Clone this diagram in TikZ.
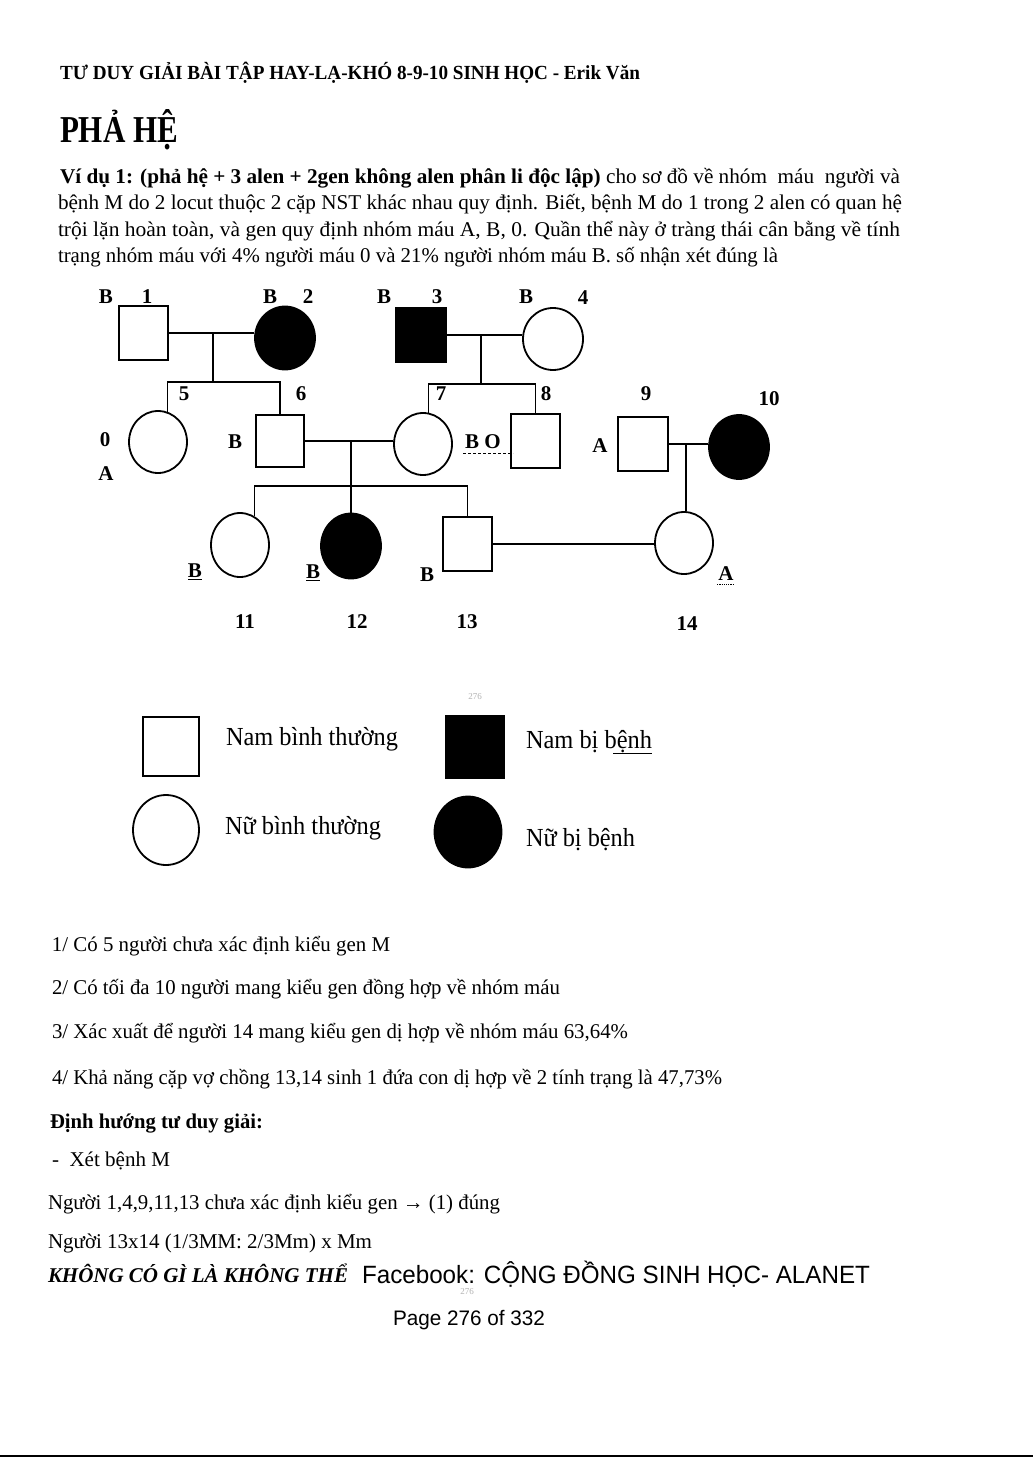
\documentclass[tikz,border=0pt]{standalone}
\usepackage{fontspec}
\setmainfont{Liberation Serif}
\setsansfont{Liberation Sans}
\usetikzlibrary{shapes.geometric}
\newcommand{\fitw}[2]{\resizebox{#1}{\height}{#2}}
\newcommand{\fsz}[1]{\fontsize{#1}{#1}\selectfont}
\begin{document}
\begin{tikzpicture}[x=1pt,y=-1pt,
  male/.style={rectangle, draw, line width=1.8pt, minimum width=49pt, minimum height=54pt, inner sep=0pt},
  female/.style={ellipse, draw, line width=1.8pt, minimum width=58pt, minimum height=62pt, inner sep=0pt},
  aff/.style={fill=black},
  conn/.style={line width=1.1pt},
  lbl/.style={font={\fsz{21}\bfseries}, inner sep=0pt, anchor=center},
  txt/.style={anchor=base west, inner sep=0pt, outer sep=0pt},
  faint/.style={font={\fsz{9}}, text=black!30, inner sep=0pt}]
\path[use as bounding box, fill=white] (0,0) rectangle (1033,1458);

% ---------- header & question ----------
\node[txt] (hdr) at (60,80) {\fsz{20}\bfseries\fitw{580pt}{TƯ DUY GIẢI BÀI TẬP HAY-LẠ-KHÓ 8-9-10 SINH HỌC - Erik Văn}};
\node[txt] (title) at (60,143) {\fsz{38}\bfseries\fitw{118pt}{PHẢ HỆ}};
\node[txt] (q1) at (60,184) {\fsz{21}\fitw{840pt}{\textbf{Ví dụ 1: (phả hệ + 3 alen + 2gen không alen phân li độc lập)} cho sơ đồ về nhóm\ \ máu\ \ người và}};
\node[txt] (q2) at (58,210) {\fsz{21}\fitw{844pt}{bệnh M do 2 locut thuộc 2 cặp NST khác nhau quy định. Biết, bệnh M do 1 trong 2 alen có quan hệ}};
\node[txt] (q3) at (58,236) {\fsz{21}\fitw{842pt}{trội lặn hoàn toàn, và gen quy định nhóm máu A, B, 0. Quần thể này ở tràng thái cân bằng về tính}};
\node[txt] (q4) at (58,262) {\fsz{21}\fitw{720pt}{trạng nhóm máu với 4\% người máu 0 và 21\% người nhóm máu B. số nhận xét đúng là}};

% ---------- pedigree individuals ----------
\node[male] (p1) at (143.5,333) {};
\node[female, aff, minimum width=60pt, minimum height=63pt] (p2) at (285,338) {};
\node[male, aff, minimum width=50pt, minimum height=55pt] (p3) at (421,335) {};
\node[female, minimum width=60pt] (p4) at (553,339) {};
\node[female] (p5) at (158,442) {};
\node[male, minimum width=48pt, minimum height=52pt] (p6) at (280,441) {};
\node[female] (p7) at (423,444) {};
\node[male] (p8) at (535.5,441) {};
\node[male, minimum width=50pt] (p9) at (643,444) {};
\node[female, aff, minimum width=60pt, minimum height=64pt] (p10) at (739,447) {};
\node[female, minimum height=64pt] (p11) at (240,545) {};
\node[female, aff, minimum width=60pt, minimum height=65pt] (p12) at (351,546) {};
\node[male] (p13) at (467.5,544) {};
\node[female] (p14) at (684,543) {};

% ---------- connectors ----------
\coordinate (j12) at (213,333);
\coordinate (k12) at (213,382);
\coordinate (j34) at (481,335);
\coordinate (k34) at (481,384);
\coordinate (j67) at (351,441);
\coordinate (k67) at (351,486);
\coordinate (j910) at (686,444);
\draw[conn] (p1.east) -- (p1.east -| p2.west);
\draw[conn] (j12) -- (k12);
\draw[conn] (p5.73) |- (k12) -| (p6.north);
\draw[conn] (p3.east) -- (p3.east -| p4.west);
\draw[conn] (j34) -- (k34);
\draw[conn] (p7.80) |- (k34) -| (p8.north);
\draw[conn] (p6.east) -- (p6.east -| p7.west);
\draw[conn] (j67) -- (p12.north);
\draw[conn] (p11.63) |- (k67) -| (p13.north);
\draw[conn] (p9.east) -- (p9.east -| p10.west);
\draw[conn] (j910) -- (j910 |- p14.north);
\draw[conn] (p13.east) -- (p13.east -| p14.west);

% ---------- pedigree labels ----------
\node[lbl] (lB1) at (106,297) {B};
\node[lbl] (n1) at (147,297) {1};
\node[lbl] (lB2) at (270,297) {B};
\node[lbl] (n2) at (308,297) {2};
\node[lbl] (lB3) at (384,297) {B};
\node[lbl] (n3) at (437,297) {3};
\node[lbl] (lB4) at (526,297) {B};
\node[lbl] (n4) at (583,298) {4};
\node[lbl] (n5) at (184,394) {5};
\node[lbl] (n6) at (301,394) {6};
\node[lbl] (n7) at (441,394) {7};
\node[lbl] (n8) at (546,394) {8};
\node[lbl] (n9) at (646,394) {9};
\node[lbl] (n10) at (769,399) {10};
\node[lbl] (lO5) at (105,440) {0};
\node[lbl] (lA5) at (106,474) {A};
\node[lbl] (lB6) at (235,442) {B};
\node[lbl] (lBO7) at (483,442) {B O};
\draw[densely dashed, line width=0.9pt] (lBO7.south west) ++(-2,4) -- ++(50,0);
\node[lbl] (lA9) at (600,446) {A};
\node[lbl] (lB11) at (195,572) {\underline{B}};
\node[lbl] (lB12) at (313,573) {\underline{B}};
\node[lbl] (lB13) at (427,575) {B};
\node[lbl] (lA14) at (726,574) {A};
\draw[densely dotted, line width=1.2pt] (lA14.south west) ++(-1,3) -- ++(17,0);
\node[lbl] (n11) at (245,622) {11};
\node[lbl] (n12) at (357,622) {12};
\node[lbl] (n13) at (467,622) {13};
\node[lbl] (n14) at (687,624) {14};

% ---------- legend ----------
\node[faint] (f1) at (475,697) {276};
\node[male, minimum width=56pt, minimum height=59pt] (lg1) at (171,746.5) {};
\node[txt] (lt1) at (226,745) {\fsz{26}\fitw{172pt}{Nam bình thường}};
\node[male, aff, minimum width=58pt, minimum height=62pt] (lg2) at (475,747) {};
\node[txt] (lt2) at (526,748) {\fsz{26}\fitw{126pt}{Nam bị bệnh}};
\draw[line width=0.8pt] (613,753) -- (652,753);
\node[female, minimum width=66pt, minimum height=70pt] (lg3) at (166,830) {};
\node[txt] (lt3) at (225,834) {\fsz{26}\fitw{156pt}{Nữ bình thường}};
\node[female, aff, minimum width=67pt, minimum height=71pt] (lg4) at (468,832) {};
\node[txt] (lt4) at (526,846) {\fsz{26}\fitw{109pt}{Nữ bị bệnh}};

% ---------- statements ----------
\node[txt] (s1) at (52,951) {\fsz{21}\fitw{338pt}{1/ Có 5 người chưa xác định kiểu gen M}};
\node[txt] (s2) at (52,994) {\fsz{21}\fitw{508pt}{2/ Có tối đa 10 người mang kiểu gen đồng hợp về nhóm máu}};
\node[txt] (s3) at (52,1038) {\fsz{21}\fitw{576pt}{3/ Xác xuất để người 14 mang kiểu gen dị hợp về nhóm máu 63,64\%}};
\node[txt] (s4) at (52,1084) {\fsz{21}\fitw{670pt}{4/ Khả năng cặp vợ chồng 13,14 sinh 1 đứa con dị hợp về 2 tính trạng là 47,73\%}};
\node[txt] (s5) at (50,1128) {\fsz{21}\bfseries\fitw{213pt}{Định hướng tư duy giải:}};
\node[txt] (s6) at (52,1166) {\fsz{21}\fitw{118pt}{-\ \ Xét bệnh M}};
\node[txt] (s7) at (48,1209) {\fsz{21}\fitw{452pt}{Người 1,4,9,11,13 chưa xác định kiểu gen → (1) đúng}};
\node[txt] (s8) at (48,1248) {\fsz{21}\fitw{324pt}{Người 13x14 (1/3MM: 2/3Mm) x Mm}};
\node[txt] (s9) at (48,1282) {\fsz{21}\bfseries\itshape\fitw{300pt}{KHÔNG CÓ GÌ LÀ KHÔNG THỂ}};
\node[txt] (s10) at (362,1283) {\sffamily\fsz{25}\fitw{508pt}{Facebook: CỘNG ĐỒNG SINH HỌC- ALANET}};
\node[faint] (f2) at (467,1292) {276};
\node[txt] (pg) at (393,1325) {\sffamily\fsz{21}\fitw{152pt}{Page 276 of 332}};

% bottom edge line
\coordinate (bl) at (0,1456);
\coordinate (br) at (1033,1456);
\draw[line width=1.5pt] (bl) -- (br);
\end{tikzpicture}
\end{document}
